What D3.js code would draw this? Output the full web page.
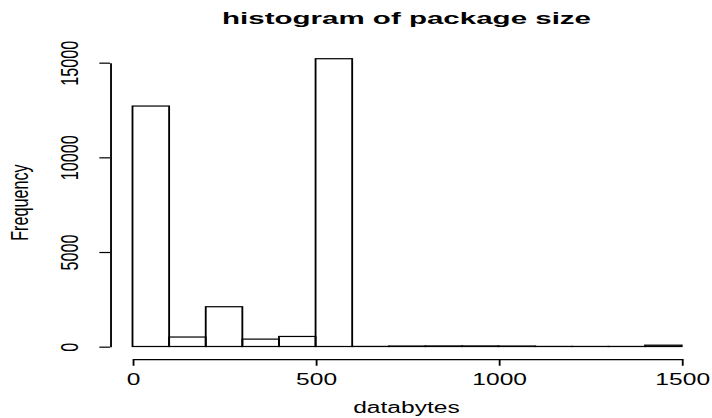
<!DOCTYPE html>
<html>
<head>
<meta charset="utf-8">
<script src="https://cdn.jsdelivr.net/npm/d3@7"></script>
<style>
  body { margin: 0; background: #fff; }
  text { font-family: "Liberation Sans", Arial, Helvetica, sans-serif; fill: #000; }
  .axis path, .axis line { stroke: #000; stroke-width: 0.9; }
</style>
</head>
<body>
<div class="chart"></div>
<script>
// histogram bins (databytes) and counts
const binStart = [0, 100, 200, 300, 400, 500, 600, 700, 800, 900, 1000, 1100, 1200, 1300, 1400];
const binEnd   = [100, 200, 300, 400, 500, 600, 700, 800, 900, 1000, 1100, 1200, 1300, 1400, 1500];
const counts   = [12700, 500, 2100, 390, 530, 15200, 5, 25, 30, 30, 25, 5, 3, 3, 70];
const xTicks = [0, 500, 1000, 1500];
const yTicks = [0, 5000, 10000, 15000];

const w = 712;
const h = 418;
// the picture is stretched: draw in a small box and let the svg scale it
const sx = 2.05;
const sy = 1.35;
const vbW = w / sx;
const vbH = h / sy;

const x = d3.scaleLinear()
  .domain([0, 1500])
  .range([132.5 / sx, 681.7 / sx]);

const y = d3.scaleLinear()
  .domain([0, 15000])
  .range([346.5 / sy, 62.5 / sy]);

const yAxisX = 110 / sx;
const xAxisY = 359 / sy;

const svg = d3.select(".chart")
  .append("svg")
  .attr("width", w)
  .attr("height", h)
  .attr("viewBox", `0 0 ${vbW} ${vbH}`)
  .attr("preserveAspectRatio", "none");

const bins = binStart.map((s, i) => ({ x0: s, x1: binEnd[i], n: counts[i] }));

svg.append("g")
  .attr("class", "bars")
  .selectAll("rect")
  .data(bins)
  .enter()
  .append("rect")
  .attr("x", d => x(d.x0))
  .attr("y", d => y(d.n))
  .attr("width", d => x(d.x1) - x(d.x0))
  .attr("height", d => y(0) - y(d.n))
  .attr("fill", "none")
  .attr("stroke", "#000")
  .attr("stroke-width", 0.9);

// x axis
const gx = svg.append("g")
  .attr("class", "axis")
  .attr("transform", `translate(0,${xAxisY})`)
  .call(d3.axisBottom(x).tickValues(xTicks).tickSize(5).tickSizeOuter(0).tickFormat(d3.format("d")));

gx.selectAll("text")
  .attr("y", 385 / sy - xAxisY)
  .attr("dy", 0)
  .attr("font-size", 12)
  .attr("font-family", null);

// y axis, labels parallel to the axis
const gy = svg.append("g")
  .attr("class", "axis")
  .attr("transform", `translate(${yAxisX},0)`)
  .call(d3.axisLeft(y).tickValues(yTicks).tickSize(5.2).tickSizeOuter(0).tickFormat(d3.format("d")));

gy.selectAll("text")
  .attr("transform", "rotate(-90)")
  .attr("x", 0)
  .attr("y", 78.3 / sx - yAxisX)
  .attr("dy", 0)
  .attr("text-anchor", "middle")
  .attr("font-size", 12)
  .attr("font-family", null);

svg.selectAll(".axis text").style("fill", "#000");

// axis titles
const midX = (110 + 703) / 2 / sx;

svg.append("text")
  .attr("x", midX)
  .attr("y", 413.3 / sy)
  .attr("text-anchor", "middle")
  .attr("font-size", 12)
  .text("databytes");

svg.append("text")
  .attr("transform", `translate(${28.1 / sx},${y(7600)}) rotate(-90)`)
  .attr("text-anchor", "middle")
  .attr("font-size", 12)
  .text("Frequency");

svg.append("text")
  .attr("transform", `translate(${midX},${24 / sy}) scale(1,0.82)`)
  .attr("text-anchor", "middle")
  .attr("font-size", 14.4)
  .attr("font-weight", "bold")
  .text("histogram of package size");
</script>
</body>
</html>
